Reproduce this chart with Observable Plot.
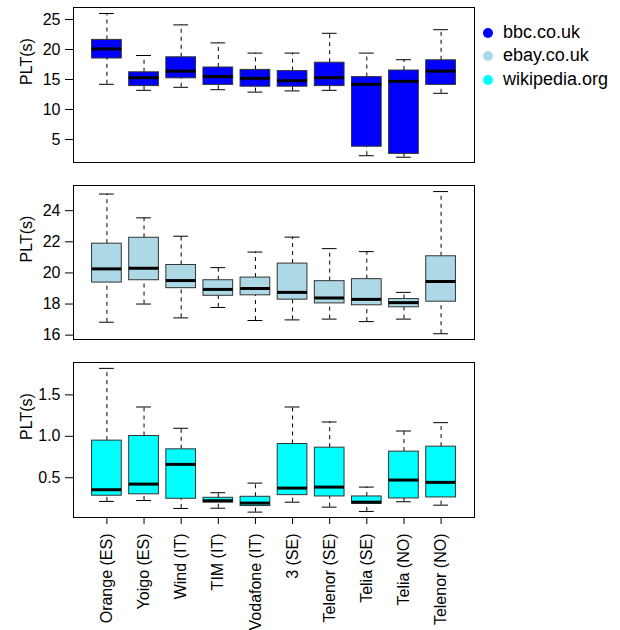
<!DOCTYPE html>
<html><head><meta charset="utf-8">
<script src="https://cdn.jsdelivr.net/npm/d3@7"></script>
<script src="https://cdn.jsdelivr.net/npm/@observablehq/plot@0.6"></script>
<style>
body{margin:0;background:#fff;}
#wrap{position:relative;width:620px;height:630px;overflow:hidden;font-family:"Liberation Sans",Arial,Helvetica,sans-serif;}
#wrap svg{position:absolute;left:0;display:block;overflow:visible;}
.leg{position:absolute;left:483px;font-size:18px;line-height:20px;color:#000;white-space:nowrap;}
.leg span.dot{display:inline-block;width:10px;height:10px;border-radius:50%;margin-right:10px;vertical-align:0px;}
</style></head><body><div id="wrap"></div>
<script>
const operators = ["Orange (ES)","Yoigo (ES)","Wind (IT)","TIM (IT)","Vodafone (IT)","3 (SE)","Telenor (SE)","Telia (SE)","Telia (NO)","Telenor (NO)"];
const sites = ["bbc.co.uk","ebay.co.uk","wikipedia.org"];
const siteColors = ["#0000FF","#ADD8E6","#00FFFF"];

// bbc.co.uk  (whisker low, Q1, median, Q3, whisker high)
const bbcLow  = [14.2,13.2,13.7,13.3,12.9,13.1,13.2,2.3,2.05,12.7];
const bbcQ1   = [18.5,13.9,15.2,14.1,13.8,13.8,13.9,3.8,2.6,14.1];
const bbcMed  = [20.1,15.3,16.4,15.5,15.2,14.8,15.3,14.2,14.7,16.4];
const bbcQ3   = [21.6,16.2,18.7,17.0,16.6,16.4,17.8,15.4,16.5,18.2];
const bbcHigh = [26.0,19.0,24.1,21.1,19.4,19.4,22.7,19.4,18.3,23.3];

// ebay.co.uk
const ebayLow  = [16.83,18.0,17.11,17.78,16.94,16.98,17.03,16.87,17.03,16.09];
const ebayQ1   = [19.38,19.53,19.02,18.53,18.56,18.28,18.04,17.92,17.79,18.15];
const ebayMed  = [20.26,20.30,19.51,18.94,19.0,18.75,18.39,18.30,18.09,19.45];
const ebayQ3   = [21.88,22.26,20.51,19.53,19.70,20.60,19.47,19.60,18.32,21.07];
const ebayHigh = [25.07,23.54,22.36,20.34,21.34,22.30,21.56,21.37,18.75,25.23];

// wikipedia.org
const wikiLow  = [0.214,0.225,0.129,0.132,0.085,0.205,0.145,0.093,0.21,0.169];
const wikiQ1   = [0.283,0.30,0.246,0.201,0.158,0.29,0.274,0.186,0.25,0.262];
const wikiMed  = [0.355,0.423,0.661,0.222,0.194,0.375,0.387,0.205,0.472,0.444];
const wikiQ3   = [0.948,1.004,0.843,0.258,0.27,0.907,0.863,0.274,0.815,0.875];
const wikiHigh = [1.82,1.354,1.097,0.319,0.435,1.354,1.173,0.387,1.064,1.165];

const ticksBbc  = [5,10,15,20,25];
const ticksEbay = [16,18,20,22,24];
const ticksWiki = [0.5,1.0,1.5];

function rows(low,q1,med,q3,high){
  return operators.map((op,k)=>({i:k+1,op,low:low[k],q1:q1[k],med:med[k],q3:q3[k],high:high[k]}));
}

const FONT = '"Liberation Sans",Arial,Helvetica,sans-serif';
const wrap = document.getElementById("wrap");

function panel(data, fill, yDomain, yTicks, fmt, top, height, mt, mb, showX){
  const marks = [
    Plot.ruleX(data,{x:"i",y1:"q3",y2:"high",stroke:"#000",strokeDasharray:"4,4"}),
    Plot.ruleX(data,{x:"i",y1:"low",y2:"q1",stroke:"#000",strokeDasharray:"4,4"}),
    Plot.ruleY(data,{y:"high",x1:d=>d.i-0.2,x2:d=>d.i+0.2,stroke:"#000"}),
    Plot.ruleY(data,{y:"low",x1:d=>d.i-0.2,x2:d=>d.i+0.2,stroke:"#000"}),
    Plot.rect(data,{x1:d=>d.i-0.4,x2:d=>d.i+0.4,y1:"q1",y2:"q3",fill,stroke:"#333",strokeWidth:1}),
    Plot.ruleY(data,{y:"med",x1:d=>d.i-0.4,x2:d=>d.i+0.4,stroke:"#000",strokeWidth:3}),
    Plot.frame({stroke:"#000"}),
    Plot.axisY({ticks:yTicks,tickFormat:fmt,tickSize:8,tickPadding:5,fontSize:16,label:null,stroke:"#000"}),
    Plot.text(["PLT(s)"],{frameAnchor:"left",dx:-47,rotate:-90,fontSize:16,fill:"#000"})
  ];
  if (showX) marks.push(Plot.axisX({ticks:d3.range(1,11),tickFormat:i=>operators[i-1],tickRotate:-90,tickSize:7,tickPadding:9,fontSize:16,label:null,stroke:"#000"}));
  const svg = Plot.plot({
    width:620,height,marginLeft:73,marginRight:146,marginTop:mt,marginBottom:mb,
    style:{fontFamily:FONT,fontSize:"16px",color:"#000",background:"transparent"},
    x:{domain:[0.1,10.9],axis:null},
    y:{domain:yDomain,axis:null},
    marks
  });
  svg.style.top = top+"px";
  wrap.appendChild(svg);
}

panel(rows(bbcLow,bbcQ1,bbcMed,bbcQ3,bbcHigh), siteColors[0], [1.17,27.0], ticksBbc, d3.format("d"), 0, 170, 7, 8, false);
panel(rows(ebayLow,ebayQ1,ebayMed,ebayQ3,ebayHigh), siteColors[1], [15.72,25.62], ticksEbay, d3.format("d"), 170, 177, 15, 8, false);
panel(rows(wikiLow,wikiQ1,wikiMed,wikiQ3,wikiHigh), siteColors[2], [0.02,1.891], ticksWiki, d3.format(".1f"), 347, 283, 15, 113, true);

const legTops = [22,45,69];
sites.forEach((s,k)=>{
  const d = document.createElement("div");
  d.className = "leg";
  d.style.top = legTops[k]+"px";
  d.innerHTML = `<span class="dot" style="background:${siteColors[k]}"></span>${s}`;
  wrap.appendChild(d);
});
</script></body></html>
